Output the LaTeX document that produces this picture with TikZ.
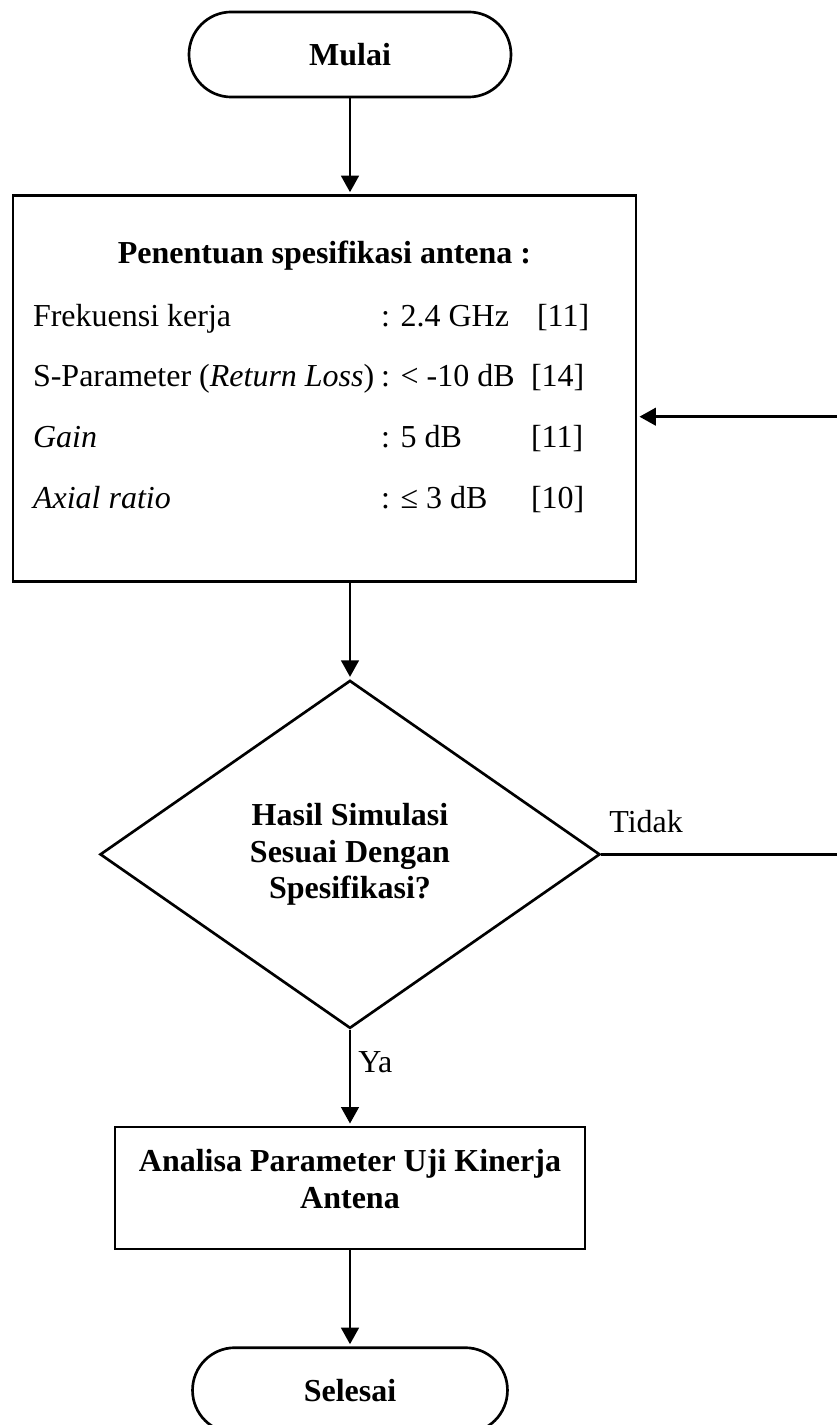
\documentclass[tikz,border=0pt]{standalone}
\usepackage{fontspec}
\setmainfont{Liberation Serif}
\usetikzlibrary{arrows.meta,positioning,shapes.geometric,calc}

\begin{document}
\fontsize{12pt}{13.8pt}\selectfont
\begin{tikzpicture}[
    node distance=36pt,
    line width=1pt,
    term/.style={draw, rounded corners=15.9pt, minimum width=120.75pt, minimum height=31.9pt, font=\bfseries},
    block/.style={draw, align=center, inner sep=0pt},
    decision/.style={draw, diamond, aspect=1.44, inner sep=0pt, minimum width=187.5pt, minimum height=130.5pt, align=center, font=\bfseries},
    spec/.style={anchor=base west, inner sep=0pt},
    lbl/.style={inner sep=0pt},
    arr/.style={-{Triangle[length=6.2pt, width=6.6pt]}, shorten >=0.8pt}
]
\useasboundingbox (-131.25pt,20.44pt) rectangle (182.25pt,-513.94pt);

\node[term] (mulai) at (0,0) {Mulai};
\node[block, minimum width=233.6pt, minimum height=144.75pt, below=of mulai, xshift=-9.56pt] (box1) {};
\node[decision, below=of box1, xshift=9.56pt] (dec) {Hasil Simulasi\\Sesuai Dengan\\Spesifikasi?};
\node[block, minimum width=176.25pt, minimum height=45.75pt, below=of dec] (box2) {};
\node[term, minimum width=118.1pt, below=of box2] (selesai) {Selesai};

% isi kotak spesifikasi
\node[lbl, anchor=base, font=\bfseries] (spectitle) at ($(box1.north)+(0,-25.9pt)$) {Penentuan spesifikasi antena :};
\node[spec] (freq) at ($(box1.north west)+(7.5pt,-49.5pt)$) {\makebox[130.5pt][l]{Frekuensi kerja}\makebox[58.5pt][l]{: 2.4 GHz}[11]};
\node[spec] (sparam) at ($(box1.north west)+(7.5pt,-72pt)$) {\makebox[130.5pt][l]{S-Parameter (\textit{Return Loss})}\makebox[56.25pt][l]{: < -10 dB}[14]};
\node[spec] (gain) at ($(box1.north west)+(7.5pt,-94.9pt)$) {\makebox[130.5pt][l]{\textit{Gain}}\makebox[56.25pt][l]{: 5 dB}[11]};
\node[spec] (axial) at ($(box1.north west)+(7.5pt,-117.75pt)$) {\makebox[130.5pt][l]{\textit{Axial ratio}}\makebox[56.25pt][l]{: ≤ 3 dB}[10]};

% isi kotak analisa
\node[lbl, align=center, font=\bfseries, yshift=3.3pt] (analisa) at (box2) {Analisa Parameter Uji Kinerja\\Antena};

\coordinate[right=89pt of dec.east] (turn);
\coordinate (box1in) at ($(box1.east)+(0,-10.5pt)$);

\draw[arr] (mulai) -- (mulai |- box1.north);
\draw[arr] (box1.south -| dec) -- (dec);
\draw[arr] (dec) -- node[lbl, pos=0.34, anchor=west, xshift=2.6pt] (ya) {Ya} (box2);
\draw[arr] (box2) -- (selesai);
\draw[arr] (dec.east) -- node[lbl, pos=0, anchor=south west, xshift=2.5pt, yshift=7.5pt] (tidak) {Tidak} (turn) |- (box1in);
\end{tikzpicture}
\end{document}
